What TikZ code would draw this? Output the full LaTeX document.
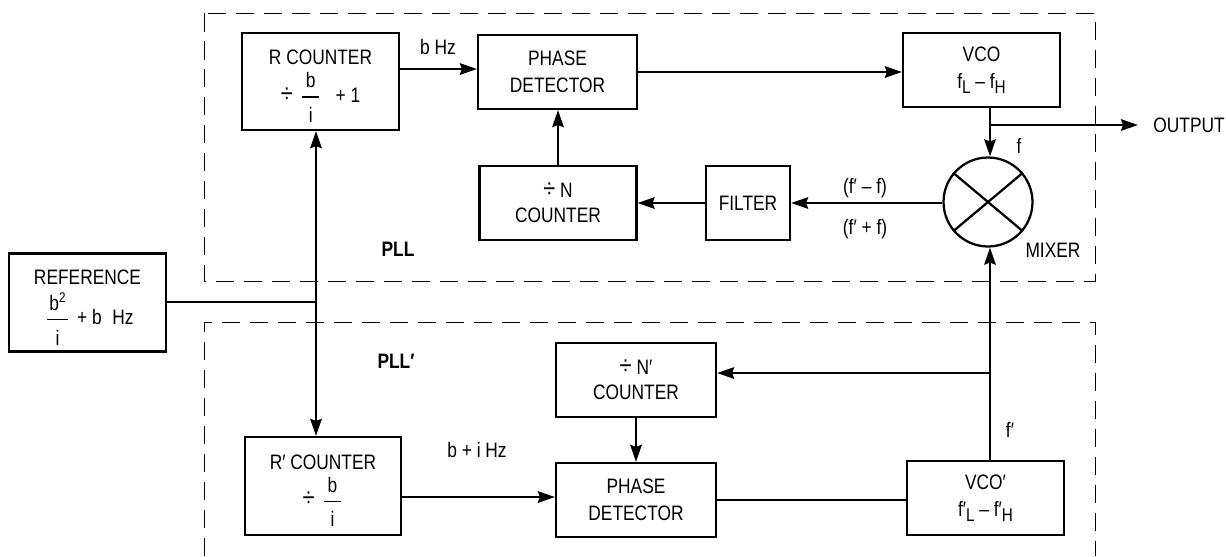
\documentclass[tikz,border=0pt]{standalone}
\usepackage{amsmath}
\usepackage{fontspec}
\setmainfont{Liberation Sans}[FakeStretch=0.83]
\usetikzlibrary{arrows.meta}
\tikzset{
  >={Stealth[length=0.34cm,width=0.23cm,inset=0.04cm]},
  every node/.style={font=\fontsize{11.9}{14}\selectfont},
  block/.style={draw, line width=0.045cm, align=center, inner sep=0pt},
  conn/.style={line width=0.045cm},
  pllbox/.style={line width=0.02cm, dash pattern=on 0.37cm off 0.19cm},
  lbl/.style={inner sep=0pt}
}
\newcommand{\bfrac}[2]{\ensuremath{\genfrac{}{}{0.7pt}{0}{\text{\makebox[#1]{#2}}}{\rule{0pt}{12pt}\text{i}}}}
\newcommand{\sbt}[1]{\raisebox{-2.8pt}{\fontsize{10.5}{11}\selectfont #1}}
\newcommand{\spt}[1]{\raisebox{4.5pt}{\fontsize{8}{9}\selectfont #1}}
\newcommand{\topgap}{\rule{0pt}{13.7pt}}
\newcommand{\dvd}{{\fontsize{15}{15}\selectfont ÷}}
\begin{document}
\begin{tikzpicture}[x=0.02cm, y=-0.02cm]
\useasboundingbox (0,0) rectangle (1226,556);
\draw[pllbox] (204,13) rectangle (1095,281);
\draw[pllbox] (204,556) -- (204,322) -- (1095,322) -- (1095,556);

\node[block, minimum width=3.14cm, minimum height=1.96cm] (reference) at (87.5,302.5)
    {\topgap REFERENCE\\[4pt] \hspace{2pt}\bfrac{12pt}{b\spt{2}}\hspace{4pt}+ b\hspace{6pt}Hz};
\node[block, minimum width=3.14cm, minimum height=1.94cm] (rcounter) at (320.5,81.5)
    {\topgap R COUNTER\\[3.5pt] \dvd\hspace{4pt}\bfrac{10pt}{b}\hspace{8pt}+ 1};
\node[block, minimum width=3.18cm, minimum height=1.48cm] (pd) at (557.5,72)
    {PHASE\\[1.3pt] DETECTOR};
\node[block, minimum width=3.14cm, minimum height=1.48cm] (vco) at (981.5,70)
    {VCO\\[1.3pt] f\sbt{L} – f\sbt{H}};
\node[block, minimum width=3.14cm, minimum height=1.48cm] (ncounter) at (558,203)
    {\dvd{} N\\[0.5pt] COUNTER};
\node[block, minimum width=1.68cm, minimum height=1.48cm] (filter) at (748,203) {FILTER};
\node[draw, circle, line width=0.045cm, minimum size=1.78cm, inner sep=0pt] (mixer) at (988,202) {};
\node[block, minimum width=3.12cm, minimum height=1.96cm] (rpcounter) at (323,486)
    {\topgap R′ COUNTER\\[3.5pt] \dvd\hspace{4pt}\bfrac{10pt}{b}\hspace{12pt}};
\node[block, minimum width=3.2cm, minimum height=1.48cm] (npcounter) at (636,380)
    {\dvd{} N′\\[0.5pt] COUNTER};
\node[block, minimum width=3.2cm, minimum height=1.48cm] (pdp) at (636,500)
    {PHASE\\[1.3pt] DETECTOR};
\node[block, minimum width=3.14cm, minimum height=1.48cm] (vcop) at (985.5,498)
    {VCO′\\[1.3pt] f′\sbt{L} – f′\sbt{H}};

\node[lbl, anchor=west, inner xsep=0.3cm] (output) at (1138,125) {OUTPUT};
\node[lbl] (fout) at (1019,146) {f};
\node[lbl] (mixerlbl) at (1053,250) {MIXER};
\node[lbl] (minus) at (865,188) {(f′ – f)};
\node[lbl] (plus) at (865,229) {(f′ + f)};
\node[lbl] (hz) at (438,47) {b Hz};
\node[lbl] (hzp) at (477,450) {b + i Hz};
\node[lbl] (fprime) at (1010,430) {f′};
\node[lbl] (pll) at (398,249) {\textbf{PLL}};
\node[lbl] (pllp) at (396,361) {\textbf{PLL′}};

\coordinate (jref) at (316,302);
\coordinate (jout) at (990,125);
\coordinate (jn) at (990,373);

\draw[conn, ->] (rcounter.east |- 0,69) -- (pd.west |- 0,69);
\draw[conn, ->] (pd.east) -- (vco.west |- pd.east);
\draw[conn, ->] (vco.south -| jout) -- (mixer.north -| jout);
\draw[conn, ->] (jout) -- (output.west);
\draw[conn, ->] (mixer.west |- filter.east) -- (filter.east);
\draw[conn, ->] (filter.west) -- (ncounter.east);
\draw[conn, ->] (ncounter.north) -- (pd.south -| ncounter.north);
\draw[conn] (reference.east |- jref) -- (jref);
\draw[conn, ->] (jref) -- (rcounter.south -| jref);
\draw[conn, ->] (jref) -- (rpcounter.north -| jref);
\draw[conn, ->] (rpcounter.east |- 0,497) -- (pdp.west |- 0,497);
\draw[conn, ->] (npcounter.south) -- (pdp.north);
\draw[conn] (pdp.east) -- (vcop.west |- pdp.east);
\draw[conn, ->] (vcop.north -| jn) -- (mixer.south -| jn);
\draw[conn, ->] (jn) -- (npcounter.east |- jn);
\draw[conn] (mixer.140) -- (mixer.-40);
\draw[conn] (mixer.40) -- (mixer.-140);
\end{tikzpicture}
\end{document}
